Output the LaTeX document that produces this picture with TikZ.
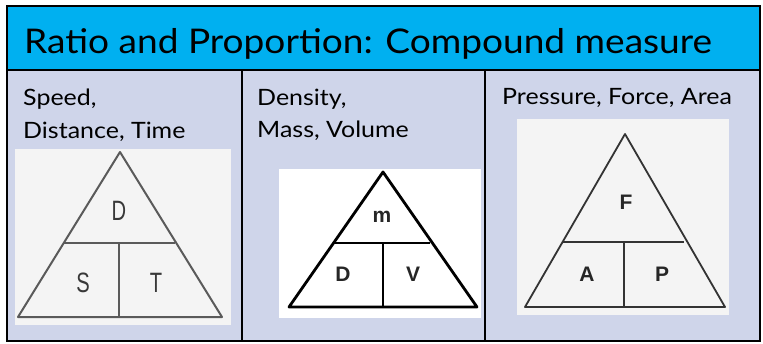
\documentclass[tikz,border=0pt]{standalone}
\usepackage{fontspec}
\setmainfont{Lato}
\newfontfamily\letterfont{Liberation Sans}
\definecolor{hdrblue}{HTML}{00B0F0}
\definecolor{cellbg}{HTML}{CFD5EA}
\definecolor{imgbg}{HTML}{F4F4F4}
\definecolor{greyink}{HTML}{5A5A5A}
\begin{document}
\begin{tikzpicture}[x=1pt,y=-1pt,
  frame/.style={line width=2pt,draw=black},
  celltext/.style={anchor=base west,inner sep=0pt,font=\fontsize{22.5}{33}\selectfont},
  tri1/.style={draw=greyink,line width=2pt,line join=round},
  tri2/.style={draw=black,line width=2.8pt,line join=round},
  tri3/.style={draw=black!80,line width=1.8pt,line join=round},
  lett1/.style={inner sep=0pt,text=black!78,font=\letterfont\fontsize{28}{28}\selectfont},
  lett2/.style={inner sep=0pt,text=black!85,font=\letterfont\bfseries\fontsize{21}{21}\selectfont},
]
\useasboundingbox (0,0) rectangle (763,343);
\fill[white] (0,0) rectangle (763,343);
% backgrounds
\fill[cellbg] (7,70) rectangle (760,341);
\fill[hdrblue] (7,6) rectangle (760,70);
% title
\node[anchor=base west,inner sep=0pt,font=\fontsize{34}{34}\selectfont] (title) at (24,53) {\scalebox{1.09}[1]{Ratio and Proportion: Compound measure}};
% cell texts
\node[celltext] (t1a) at (23,105) {\scalebox{1.11}[1]{Speed,}};
\node[celltext] (t1b) at (23,138) {\scalebox{1.11}[1]{Distance, Time}};
\node[celltext] (t2a) at (257,105) {\scalebox{1.11}[1]{Density,}};
\node[celltext] (t2b) at (257,137) {\scalebox{1.11}[1]{Mass, Volume}};
\node[celltext] (t3a) at (502,104) {\scalebox{1.11}[1]{Pressure, Force, Area}};
% panel 1
\fill[imgbg] (15,149) rectangle (231,325);
\draw[tri1] (120,152) -- (18,317) -- (222,317) -- cycle;
\draw[tri1] (64,243) -- (175,243);
\draw[tri1] (119,243) -- (119,317);
\node[lett1] (d1) at (119,211) {\scalebox{0.72}[1]{D}};
\node[lett1] (s1) at (83,283) {\scalebox{0.72}[1]{S}};
\node[lett1] (t1) at (156,283) {\scalebox{0.72}[1]{T}};
% panel 2
\fill[white] (279,169) rectangle (481,318);
\draw[tri2] (383,172) -- (289,307) -- (477,307) -- cycle;
\draw[tri2] (335,243) -- (430,243);
\draw[tri2] (383,243) -- (383,307);
\node[lett2] (m2) at (382,217) {m};
\node[lett2] (d2) at (343,274) {D};
\node[lett2] (v2) at (413,274) {V};
% panel 3
\fill[imgbg] (517,119) rectangle (729,315);
\draw[tri3] (625,134) -- (525,307) -- (725,307) -- cycle;
\draw[tri3] (563,242) -- (684,242);
\draw[tri3] (624,242) -- (624,307);
\node[lett2] (f3) at (626,202) {F};
\node[lett2] (a3) at (587,274) {A};
\node[lett2] (p3) at (662,274) {P};
% table lines
\draw[frame] (7,6) rectangle (760,341);
\draw[frame] (7,70) -- (760,70);
\draw[frame] (242,70) -- (242,341);
\draw[frame] (485,70) -- (485,341);
\end{tikzpicture}
\end{document}
